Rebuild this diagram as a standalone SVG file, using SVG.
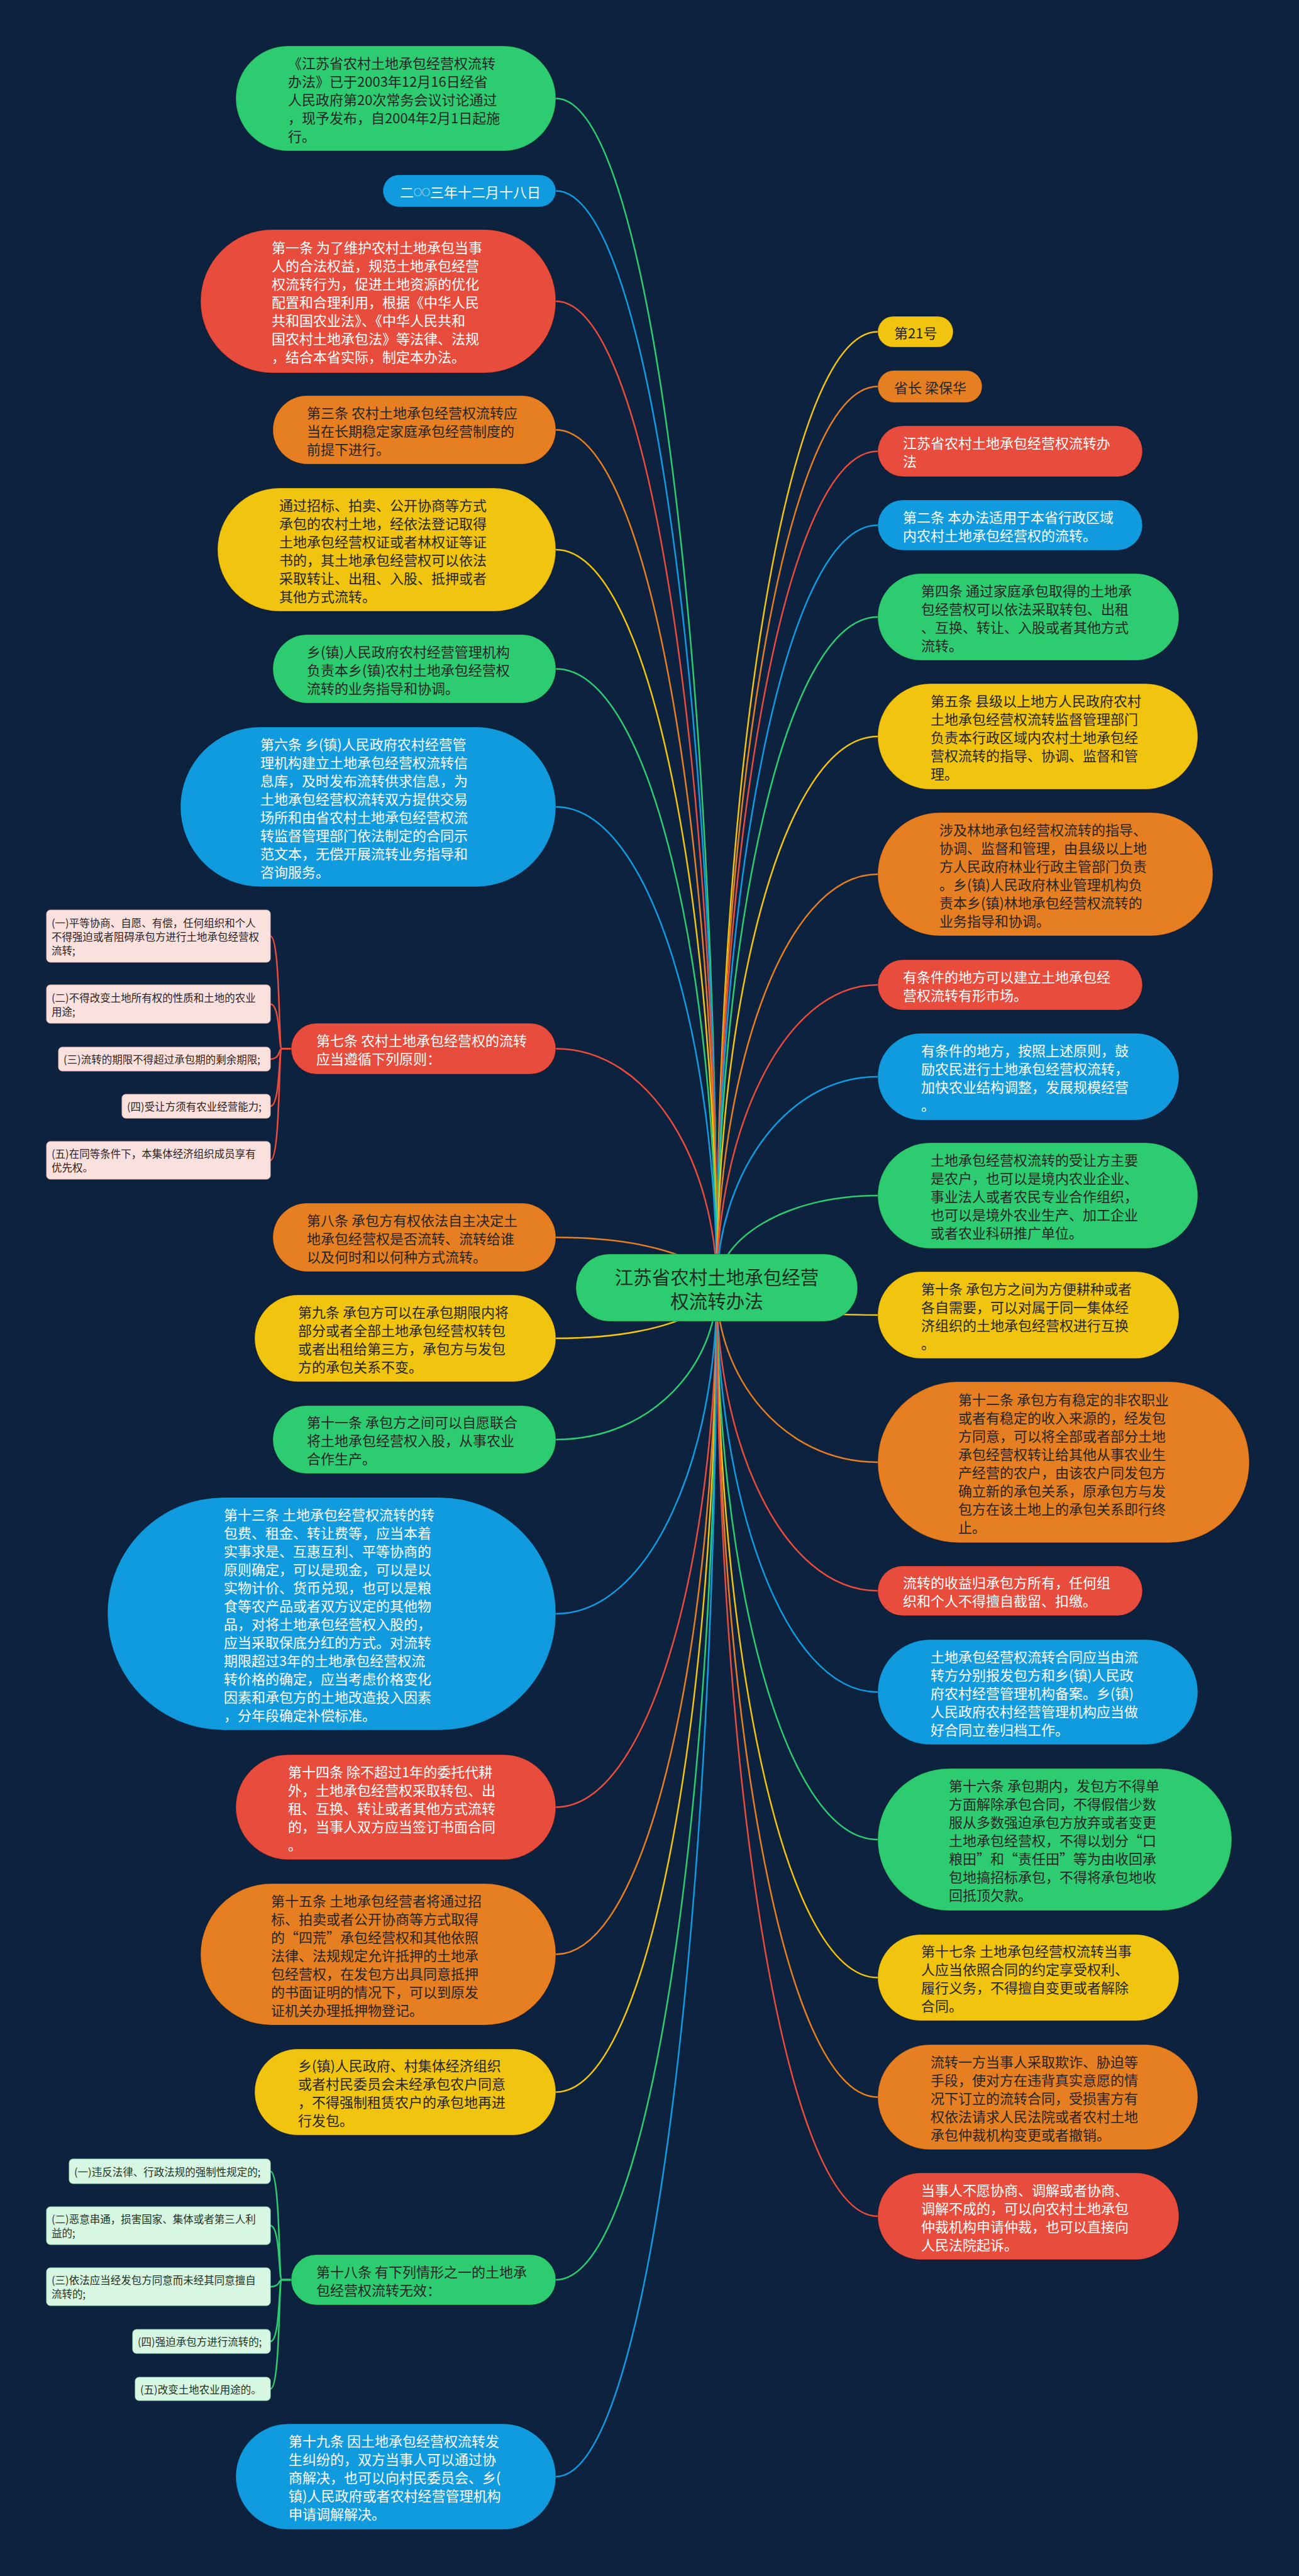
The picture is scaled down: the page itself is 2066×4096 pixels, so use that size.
<svg xmlns="http://www.w3.org/2000/svg" width="2066" height="4096" viewBox="0 0 2066 4096">
<style>
.bg{fill:#0c223f}
.c{fill:none;stroke-width:2.5}
.cg{stroke:#2ecc71}.cb{stroke:#119bdf}.cr{stroke:#e74c3c}.co{stroke:#e67e22}.cy{stroke:#f1c40f}
.n{stroke:#000;stroke-opacity:.22;stroke-width:1.5}
.g{fill:#2ecc71}.b{fill:#119bdf}.r{fill:#e74c3c}.o{fill:#e67e22}.y{fill:#f1c40f}
.sp{fill:#fbe1dd;stroke:#e8b9b2;stroke-width:1}.sg{fill:#d7f7e3;stroke:#a9e5bf;stroke-width:1}
text{font-family:"Noto Sans CJK SC","Noto Sans",sans-serif;dominant-baseline:central}
.t{font-size:22px}.td{fill:#262626}.tl{fill:#ffffff}
.ts{font-size:16.5px;fill:#2e2222}.tsg{font-size:16.5px;fill:#1f3327}
.tc{font-size:29.5px;fill:#1e2e22}
.sm{font-size:13px}
</style>
<rect class="bg" x="0" y="0" width="2066" height="4096"/>
<g id="connectors">
<path class="c cg" d="M1140 2047.5C1140 1102 1037.6 156.5 884 156.5"/>
<path class="c cb" d="M1140 2047.5C1140 1175.5 1037.6 303.5 884 303.5"/>
<path class="c cr" d="M1140 2047.5C1140 1263.25 1037.6 479 884 479"/>
<path class="c co" d="M1140 2047.5C1140 1365.5 1037.6 683.5 884 683.5"/>
<path class="c cy" d="M1140 2047.5C1140 1460.75 1037.6 874 884 874"/>
<path class="c cg" d="M1140 2047.5C1140 1555.5 1037.6 1063.5 884 1063.5"/>
<path class="c cb" d="M1140 2047.5C1140 1665.25 1037.6 1283 884 1283"/>
<path class="c cr" d="M1140 2047.5C1140 1857.5 1037.6 1667.5 884 1667.5"/>
<path class="c co" d="M1140 2047.5C1140 2007.5 1037.6 1967.5 884 1967.5"/>
<path class="c cy" d="M1140 2047.5C1140 2087.75 1037.6 2128 884 2128"/>
<path class="c cg" d="M1140 2047.5C1140 2168.25 1037.6 2289 884 2289"/>
<path class="c cb" d="M1140 2047.5C1140 2306.75 1037.6 2566 884 2566"/>
<path class="c cr" d="M1140 2047.5C1140 2460.5 1037.6 2873.5 884 2873.5"/>
<path class="c co" d="M1140 2047.5C1140 2577.5 1037.6 3107.5 884 3107.5"/>
<path class="c cy" d="M1140 2047.5C1140 2687 1037.6 3326.5 884 3326.5"/>
<path class="c cg" d="M1140 2047.5C1140 2836.25 1037.6 3625 884 3625"/>
<path class="c cb" d="M1140 2047.5C1140 2992.75 1037.6 3938 884 3938"/>
<path class="c cy" d="M1140 2047.5C1140 1287.5 1242.4 527.5 1396 527.5"/>
<path class="c co" d="M1140 2047.5C1140 1331 1242.4 614.5 1396 614.5"/>
<path class="c cr" d="M1140 2047.5C1140 1382.5 1242.4 717.5 1396 717.5"/>
<path class="c cb" d="M1140 2047.5C1140 1441.25 1242.4 835 1396 835"/>
<path class="c cg" d="M1140 2047.5C1140 1514.25 1242.4 981 1396 981"/>
<path class="c cy" d="M1140 2047.5C1140 1609.25 1242.4 1171 1396 1171"/>
<path class="c co" d="M1140 2047.5C1140 1718.75 1242.4 1390 1396 1390"/>
<path class="c cr" d="M1140 2047.5C1140 1806.75 1242.4 1566 1396 1566"/>
<path class="c cb" d="M1140 2047.5C1140 1879.75 1242.4 1712 1396 1712"/>
<path class="c cg" d="M1140 2047.5C1140 1974.25 1242.4 1901 1396 1901"/>
<path class="c cy" d="M1140 2047.5C1140 2069.25 1242.4 2091 1396 2091"/>
<path class="c co" d="M1140 2047.5C1140 2186.25 1242.4 2325 1396 2325"/>
<path class="c cr" d="M1140 2047.5C1140 2288.5 1242.4 2529.5 1396 2529.5"/>
<path class="c cb" d="M1140 2047.5C1140 2369 1242.4 2690.5 1396 2690.5"/>
<path class="c cg" d="M1140 2047.5C1140 2486.25 1242.4 2925 1396 2925"/>
<path class="c cy" d="M1140 2047.5C1140 2596 1242.4 3144.5 1396 3144.5"/>
<path class="c co" d="M1140 2047.5C1140 2691 1242.4 3334.5 1396 3334.5"/>
<path class="c cr" d="M1140 2047.5C1140 2785.75 1242.4 3524 1396 3524"/>
<path class="c cr" d="M463 1667.5H448C443 1667.5 446 1488.5 430 1488.5"/>
<path class="c cr" d="M463 1667.5H448C443 1667.5 446 1596.5 430 1596.5"/>
<path class="c cr" d="M463 1667.5H448C443 1667.5 446 1684 430 1684"/>
<path class="c cr" d="M463 1667.5H448C443 1667.5 446 1759 430 1759"/>
<path class="c cr" d="M463 1667.5H448C443 1667.5 446 1845 430 1845"/>
<path class="c cg" d="M463 3625H448C443 3625 446 3452.5 430 3452.5"/>
<path class="c cg" d="M463 3625H448C443 3625 446 3539 430 3539"/>
<path class="c cg" d="M463 3625H448C443 3625 446 3636 430 3636"/>
<path class="c cg" d="M463 3625H448C443 3625 446 3723 430 3723"/>
<path class="c cg" d="M463 3625H448C443 3625 446 3798.5 430 3798.5"/>
</g>
<g id="center">
<rect class="n g" x="916" y="1994" width="448" height="107" rx="53.5"/>
<text class="tc" x="1140" y="2029" text-anchor="middle">江苏省农村土地承包经营<tspan x="1140" dy="38">权流转办法</tspan></text>
</g>
<g id="n1"><rect class="n g" x="375" y="73" width="509" height="167" rx="83.5"/>
<text class="t td" x="458" y="98.5">《江苏省农村土地承包经营权流转<tspan x="458" dy="29">办法》已于2003年12月16日经省</tspan><tspan x="458" dy="29">人民政府第20次常务会议讨论通过</tspan><tspan x="458" dy="29">，现予发布，自2004年2月1日起施</tspan><tspan x="458" dy="29">行。</tspan></text></g>
<g id="n2"><rect class="n b" x="609" y="278" width="275" height="51" rx="25.5"/>
<text class="t tl" x="636" y="303.5">二<tspan class="sm">○○</tspan>三年十二月十八日</text></g>
<g id="n3"><rect class="n r" x="319" y="365" width="565" height="228" rx="114"/>
<text class="t tl" x="432" y="392">第一条 为了维护农村土地承包当事<tspan x="432" dy="29">人的合法权益，规范土地承包经营</tspan><tspan x="432" dy="29">权流转行为，促进土地资源的优化</tspan><tspan x="432" dy="29">配置和合理利用，根据《中华人民</tspan><tspan x="432" dy="29">共和国农业法》、《中华人民共和</tspan><tspan x="432" dy="29">国农村土地承包法》等法律、法规</tspan><tspan x="432" dy="29">，结合本省实际，制定本办法。</tspan></text></g>
<g id="n4"><rect class="n o" x="434" y="629" width="450" height="109" rx="54.5"/>
<text class="t td" x="488" y="654.5">第三条 农村土地承包经营权流转应<tspan x="488" dy="29">当在长期稳定家庭承包经营制度的</tspan><tspan x="488" dy="29">前提下进行。</tspan></text></g>
<g id="n5"><rect class="n y" x="346" y="776" width="538" height="196" rx="98"/>
<text class="t td" x="444" y="801.5">通过招标、拍卖、公开协商等方式<tspan x="444" dy="29">承包的农村土地，经依法登记取得</tspan><tspan x="444" dy="29">土地承包经营权证或者林权证等证</tspan><tspan x="444" dy="29">书的，其土地承包经营权可以依法</tspan><tspan x="444" dy="29">采取转让、出租、入股、抵押或者</tspan><tspan x="444" dy="29">其他方式流转。</tspan></text></g>
<g id="n6"><rect class="n g" x="434" y="1009" width="450" height="109" rx="54.5"/>
<text class="t td" x="488" y="1034.5">乡(镇)人民政府农村经营管理机构<tspan x="488" dy="29">负责本乡(镇)农村土地承包经营权</tspan><tspan x="488" dy="29">流转的业务指导和协调。</tspan></text></g>
<g id="n7"><rect class="n b" x="287" y="1156" width="597" height="254" rx="127"/>
<text class="t tl" x="414" y="1181.5">第六条 乡(镇)人民政府农村经营管<tspan x="414" dy="29">理机构建立土地承包经营权流转信</tspan><tspan x="414" dy="29">息库，及时发布流转供求信息，为</tspan><tspan x="414" dy="29">土地承包经营权流转双方提供交易</tspan><tspan x="414" dy="29">场所和由省农村土地承包经营权流</tspan><tspan x="414" dy="29">转监督管理部门依法制定的合同示</tspan><tspan x="414" dy="29">范文本，无偿开展流转业务指导和</tspan><tspan x="414" dy="29">咨询服务。</tspan></text></g>
<g id="n8"><rect class="n r" x="463" y="1627" width="421" height="81" rx="40.5"/>
<text class="t tl" x="503" y="1653">第七条 农村土地承包经营权的流转<tspan x="503" dy="29">应当遵循下列原则：</tspan></text></g>
<g id="n8a"><rect class="sp" x="74" y="1447" width="356" height="83" rx="6"/>
<text class="ts" x="82" y="1466.5">(一)平等协商、自愿、有偿，任何组织和个人<tspan x="82" dy="22">不得强迫或者阻碍承包方进行土地承包经营权</tspan><tspan x="82" dy="22">流转;</tspan></text></g>
<g id="n8b"><rect class="sp" x="74" y="1566" width="356" height="61" rx="6"/>
<text class="ts" x="82" y="1585.5">(二)不得改变土地所有权的性质和土地的农业<tspan x="82" dy="22">用途;</tspan></text></g>
<g id="n8c"><rect class="sp" x="93" y="1665" width="337" height="38" rx="6"/>
<text class="ts" x="101" y="1684">(三)流转的期限不得超过承包期的剩余期限;</text></g>
<g id="n8d"><rect class="sp" x="194" y="1740" width="236" height="38" rx="6"/>
<text class="ts" x="202" y="1759">(四)受让方须有农业经营能力;</text></g>
<g id="n8e"><rect class="sp" x="74" y="1815" width="356" height="60" rx="6"/>
<text class="ts" x="82" y="1834">(五)在同等条件下，本集体经济组织成员享有<tspan x="82" dy="22">优先权。</tspan></text></g>
<g id="n9"><rect class="n o" x="434" y="1913" width="450" height="109" rx="54.5"/>
<text class="t td" x="488" y="1938.5">第八条 承包方有权依法自主决定土<tspan x="488" dy="29">地承包经营权是否流转、流转给谁</tspan><tspan x="488" dy="29">以及何时和以何种方式流转。</tspan></text></g>
<g id="n10"><rect class="n y" x="405" y="2059" width="479" height="138" rx="69"/>
<text class="t td" x="474" y="2084.5">第九条 承包方可以在承包期限内将<tspan x="474" dy="29">部分或者全部土地承包经营权转包</tspan><tspan x="474" dy="29">或者出租给第三方，承包方与发包</tspan><tspan x="474" dy="29">方的承包关系不变。</tspan></text></g>
<g id="n11"><rect class="n g" x="434" y="2235" width="450" height="108" rx="54"/>
<text class="t td" x="488" y="2260">第十一条 承包方之间可以自愿联合<tspan x="488" dy="29">将土地承包经营权入股，从事农业</tspan><tspan x="488" dy="29">合作生产。</tspan></text></g>
<g id="n12"><rect class="n b" x="171" y="2381" width="713" height="370" rx="185"/>
<text class="t tl" x="356" y="2406.5">第十三条 土地承包经营权流转的转<tspan x="356" dy="29">包费、租金、转让费等，应当本着</tspan><tspan x="356" dy="29">实事求是、互惠互利、平等协商的</tspan><tspan x="356" dy="29">原则确定，可以是现金，可以是以</tspan><tspan x="356" dy="29">实物计价、货币兑现，也可以是粮</tspan><tspan x="356" dy="29">食等农产品或者双方议定的其他物</tspan><tspan x="356" dy="29">品，对将土地承包经营权入股的，</tspan><tspan x="356" dy="29">应当采取保底分红的方式。对流转</tspan><tspan x="356" dy="29">期限超过3年的土地承包经营权流</tspan><tspan x="356" dy="29">转价格的确定，应当考虑价格变化</tspan><tspan x="356" dy="29">因素和承包方的土地改造投入因素</tspan><tspan x="356" dy="29">，分年段确定补偿标准。</tspan></text></g>
<g id="n13"><rect class="n r" x="375" y="2790" width="509" height="167" rx="83.5"/>
<text class="t tl" x="458" y="2815.5">第十四条 除不超过1年的委托代耕<tspan x="458" dy="29">外，土地承包经营权采取转包、出</tspan><tspan x="458" dy="29">租、互换、转让或者其他方式流转</tspan><tspan x="458" dy="29">的，当事人双方应当签订书面合同</tspan><tspan x="458" dy="29">。</tspan></text></g>
<g id="n14"><rect class="n o" x="319" y="2995" width="565" height="225" rx="112.5"/>
<text class="t td" x="431" y="3020.5">第十五条 土地承包经营者将通过招<tspan x="431" dy="29">标、拍卖或者公开协商等方式取得</tspan><tspan x="431" dy="29">的“四荒”承包经营权和其他依照</tspan><tspan x="431" dy="29">法律、法规规定允许抵押的土地承</tspan><tspan x="431" dy="29">包经营权，在发包方出具同意抵押</tspan><tspan x="431" dy="29">的书面证明的情况下，可以到原发</tspan><tspan x="431" dy="29">证机关办理抵押物登记。</tspan></text></g>
<g id="n15"><rect class="n y" x="405" y="3258" width="479" height="137" rx="68.5"/>
<text class="t td" x="474" y="3283">乡(镇)人民政府、村集体经济组织<tspan x="474" dy="29">或者村民委员会未经承包农户同意</tspan><tspan x="474" dy="29">，不得强制租赁农户的承包地再进</tspan><tspan x="474" dy="29">行发包。</tspan></text></g>
<g id="n16"><rect class="n g" x="463" y="3585" width="421" height="80" rx="40"/>
<text class="t td" x="503" y="3610.5">第十八条 有下列情形之一的土地承<tspan x="503" dy="29">包经营权流转无效：</tspan></text></g>
<g id="n16a"><rect class="sg" x="110" y="3433" width="320" height="39" rx="6"/>
<text class="tsg" x="118" y="3452.5">(一)违反法律、行政法规的强制性规定的;</text></g>
<g id="n16b"><rect class="sg" x="74" y="3509" width="356" height="60" rx="6"/>
<text class="tsg" x="82" y="3528">(二)恶意串通，损害国家、集体或者第三人利<tspan x="82" dy="22">益的;</tspan></text></g>
<g id="n16c"><rect class="sg" x="74" y="3606" width="356" height="60" rx="6"/>
<text class="tsg" x="82" y="3625">(三)依法应当经发包方同意而未经其同意擅自<tspan x="82" dy="22">流转的;</tspan></text></g>
<g id="n16d"><rect class="sg" x="211" y="3704" width="219" height="38" rx="6"/>
<text class="tsg" x="219" y="3723">(四)强迫承包方进行流转的;</text></g>
<g id="n16e"><rect class="sg" x="215" y="3780" width="215" height="37" rx="6"/>
<text class="tsg" x="223" y="3798.5">(五)改变土地农业用途的。</text></g>
<g id="n17"><rect class="n b" x="375" y="3854" width="509" height="168" rx="84"/>
<text class="t tl" x="459" y="3880">第十九条 因土地承包经营权流转发<tspan x="459" dy="29">生纠纷的，双方当事人可以通过协</tspan><tspan x="459" dy="29">商解决，也可以向村民委员会、乡(</tspan><tspan x="459" dy="29">镇)人民政府或者农村经营管理机构</tspan><tspan x="459" dy="29">申请调解解决。</tspan></text></g>
<g id="r1"><rect class="n y" x="1396" y="503" width="120" height="49" rx="24.5"/>
<text class="t td" x="1422" y="527.5">第21号</text></g>
<g id="r2"><rect class="n o" x="1396" y="589" width="166" height="51" rx="25.5"/>
<text class="t td" x="1422" y="614.5">省长 梁保华</text></g>
<g id="r3"><rect class="n r" x="1396" y="677" width="421" height="81" rx="40.5"/>
<text class="t tl" x="1436" y="703">江苏省农村土地承包经营权流转办<tspan x="1436" dy="29">法</tspan></text></g>
<g id="r4"><rect class="n b" x="1396" y="795" width="421" height="80" rx="40"/>
<text class="t tl" x="1436" y="820.5">第二条 本办法适用于本省行政区域<tspan x="1436" dy="29">内农村土地承包经营权的流转。</tspan></text></g>
<g id="r5"><rect class="n g" x="1396" y="912" width="479" height="138" rx="69"/>
<text class="t td" x="1465" y="937.5">第四条 通过家庭承包取得的土地承<tspan x="1465" dy="29">包经营权可以依法采取转包、出租</tspan><tspan x="1465" dy="29">、互换、转让、入股或者其他方式</tspan><tspan x="1465" dy="29">流转。</tspan></text></g>
<g id="r6"><rect class="n y" x="1396" y="1087" width="509" height="168" rx="84"/>
<text class="t td" x="1480" y="1113">第五条 县级以上地方人民政府农村<tspan x="1480" dy="29">土地承包经营权流转监督管理部门</tspan><tspan x="1480" dy="29">负责本行政区域内农村土地承包经</tspan><tspan x="1480" dy="29">营权流转的指导、协调、监督和管</tspan><tspan x="1480" dy="29">理。</tspan></text></g>
<g id="r7"><rect class="n o" x="1396" y="1292" width="533" height="196" rx="98"/>
<text class="t td" x="1494" y="1317.5">涉及林地承包经营权流转的指导、<tspan x="1494" dy="29">协调、监督和管理，由县级以上地</tspan><tspan x="1494" dy="29">方人民政府林业行政主管部门负责</tspan><tspan x="1494" dy="29">。乡(镇)人民政府林业管理机构负</tspan><tspan x="1494" dy="29">责本乡(镇)林地承包经营权流转的</tspan><tspan x="1494" dy="29">业务指导和协调。</tspan></text></g>
<g id="r8"><rect class="n r" x="1396" y="1526" width="421" height="80" rx="40"/>
<text class="t tl" x="1436" y="1551.5">有条件的地方可以建立土地承包经<tspan x="1436" dy="29">营权流转有形市场。</tspan></text></g>
<g id="r9"><rect class="n b" x="1396" y="1643" width="479" height="138" rx="69"/>
<text class="t tl" x="1465" y="1668.5">有条件的地方，按照上述原则，鼓<tspan x="1465" dy="29">励农民进行土地承包经营权流转，</tspan><tspan x="1465" dy="29">加快农业结构调整，发展规模经营</tspan><tspan x="1465" dy="29">。</tspan></text></g>
<g id="r10"><rect class="n g" x="1396" y="1817" width="509" height="168" rx="84"/>
<text class="t td" x="1480" y="1843">土地承包经营权流转的受让方主要<tspan x="1480" dy="29">是农户，也可以是境内农业企业、</tspan><tspan x="1480" dy="29">事业法人或者农民专业合作组织，</tspan><tspan x="1480" dy="29">也可以是境外农业生产、加工企业</tspan><tspan x="1480" dy="29">或者农业科研推广单位。</tspan></text></g>
<g id="r11"><rect class="n y" x="1396" y="2022" width="479" height="138" rx="69"/>
<text class="t td" x="1465" y="2047.5">第十条 承包方之间为方便耕种或者<tspan x="1465" dy="29">各自需要，可以对属于同一集体经</tspan><tspan x="1465" dy="29">济组织的土地承包经营权进行互换</tspan><tspan x="1465" dy="29">。</tspan></text></g>
<g id="r12"><rect class="n o" x="1396" y="2197" width="591" height="256" rx="128"/>
<text class="t td" x="1524" y="2223.5">第十二条 承包方有稳定的非农职业<tspan x="1524" dy="29">或者有稳定的收入来源的，经发包</tspan><tspan x="1524" dy="29">方同意，可以将全部或者部分土地</tspan><tspan x="1524" dy="29">承包经营权转让给其他从事农业生</tspan><tspan x="1524" dy="29">产经营的农户，由该农户同发包方</tspan><tspan x="1524" dy="29">确立新的承包关系，原承包方与发</tspan><tspan x="1524" dy="29">包方在该土地上的承包关系即行终</tspan><tspan x="1524" dy="29">止。</tspan></text></g>
<g id="r13"><rect class="n r" x="1396" y="2490" width="421" height="79" rx="39.5"/>
<text class="t tl" x="1436" y="2515">流转的收益归承包方所有，任何组<tspan x="1436" dy="29">织和个人不得擅自截留、扣缴。</tspan></text></g>
<g id="r14"><rect class="n b" x="1396" y="2607" width="509" height="167" rx="83.5"/>
<text class="t tl" x="1480" y="2632.5">土地承包经营权流转合同应当由流<tspan x="1480" dy="29">转方分别报发包方和乡(镇)人民政</tspan><tspan x="1480" dy="29">府农村经营管理机构备案。乡(镇)</tspan><tspan x="1480" dy="29">人民政府农村经营管理机构应当做</tspan><tspan x="1480" dy="29">好合同立卷归档工作。</tspan></text></g>
<g id="r15"><rect class="n g" x="1396" y="2812" width="563" height="226" rx="113"/>
<text class="t td" x="1509" y="2838">第十六条 承包期内，发包方不得单<tspan x="1509" dy="29">方面解除承包合同，不得假借少数</tspan><tspan x="1509" dy="29">服从多数强迫承包方放弃或者变更</tspan><tspan x="1509" dy="29">土地承包经营权，不得以划分“口</tspan><tspan x="1509" dy="29">粮田”和“责任田”等为由收回承</tspan><tspan x="1509" dy="29">包地搞招标承包，不得将承包地收</tspan><tspan x="1509" dy="29">回抵顶欠款。</tspan></text></g>
<g id="r16"><rect class="n y" x="1396" y="3076" width="479" height="137" rx="68.5"/>
<text class="t td" x="1465" y="3101">第十七条 土地承包经营权流转当事<tspan x="1465" dy="29">人应当依照合同的约定享受权利、</tspan><tspan x="1465" dy="29">履行义务，不得擅自变更或者解除</tspan><tspan x="1465" dy="29">合同。</tspan></text></g>
<g id="r17"><rect class="n o" x="1396" y="3251" width="509" height="167" rx="83.5"/>
<text class="t td" x="1480" y="3276.5">流转一方当事人采取欺诈、胁迫等<tspan x="1480" dy="29">手段，使对方在违背真实意愿的情</tspan><tspan x="1480" dy="29">况下订立的流转合同，受损害方有</tspan><tspan x="1480" dy="29">权依法请求人民法院或者农村土地</tspan><tspan x="1480" dy="29">承包仲裁机构变更或者撤销。</tspan></text></g>
<g id="r18"><rect class="n r" x="1396" y="3455" width="479" height="138" rx="69"/>
<text class="t tl" x="1465" y="3480.5">当事人不愿协商、调解或者协商、<tspan x="1465" dy="29">调解不成的，可以向农村土地承包</tspan><tspan x="1465" dy="29">仲裁机构申请仲裁，也可以直接向</tspan><tspan x="1465" dy="29">人民法院起诉。</tspan></text></g>
</svg>
